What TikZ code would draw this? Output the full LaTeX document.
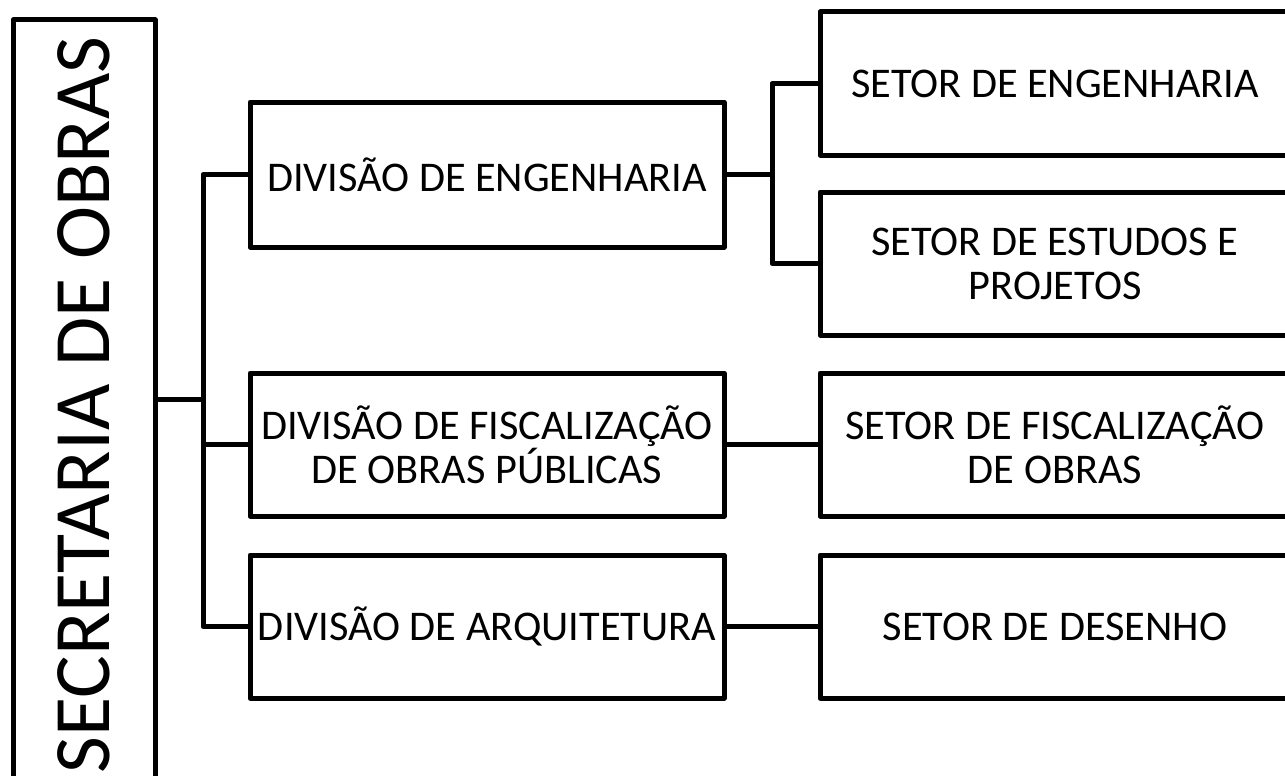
\documentclass[tikz,border=0pt]{standalone}
\usepackage{fontspec}
\setmainfont{Carlito}
\begin{document}
\begin{tikzpicture}[x=1pt,y=-1pt,
  line width=5pt, line join=round,
  box/.style={draw=black, rectangle, inner sep=0pt, align=center,
    font=\fontsize{42.3}{44}\selectfont},
  conn/.style={draw=black, line width=5pt}]
\useasboundingbox (0,0) rectangle (1285,776);
% main box
\node[box, rotate=90, minimum width=770pt, minimum height=142pt,
  font=\fontsize{80}{84}\selectfont] (main) at (84,405) {SECRETARIA DE OBRAS};
% divisions
\node[box, minimum width=474pt, minimum height=145pt] (dEng) at (487,174.5) {DIVISÃO DE ENGENHARIA};
\node[box, minimum width=474pt, minimum height=143pt] (dFis) at (487,444.5) {DIVISÃO DE FISCALIZAÇÃO\\DE OBRAS PÚBLICAS};
\node[box, minimum width=474pt, minimum height=143pt] (dArq) at (487,626.5) {DIVISÃO DE ARQUITETURA};
% sectors
\node[box, minimum width=470pt, minimum height=143pt] (sEng) at (1055,83.5) {SETOR DE ENGENHARIA};
\node[box, minimum width=470pt, minimum height=143pt] (sEst) at (1055,263.5) {SETOR DE ESTUDOS E\\PROJETOS};
\node[box, minimum width=470pt, minimum height=143pt] (sFis) at (1055,444.5) {SETOR DE FISCALIZAÇÃO\\DE OBRAS};
\node[box, minimum width=470pt, minimum height=143pt] (sDes) at (1055,626.5) {SETOR DE DESENHO};
% junctions
\coordinate (j1) at (203,399);
\coordinate (j2) at (772,174.5);
% connectors
\draw[conn] (main.south |- j1) -- (j1);
\draw[conn] (dEng.west) -- (dEng.west -| j1) |- (dArq.west);
\draw[conn] (dFis.west) -- (dFis.west -| j1);
\draw[conn] (dEng.east) -- (j2);
\draw[conn] (sEng.west) -- (sEng.west -| j2) |- (sEst.west);
\draw[conn] (dFis.east) -- (sFis.west);
\draw[conn] (dArq.east) -- (sDes.west);
\end{tikzpicture}
\end{document}
